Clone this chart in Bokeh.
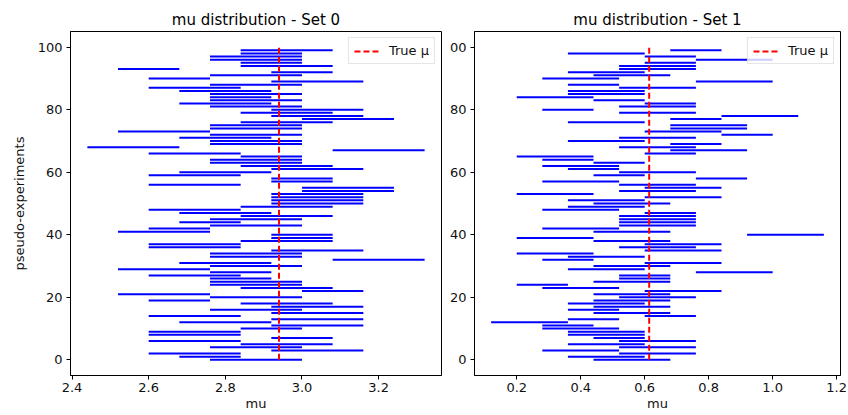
from bokeh.plotting import figure
from bokeh.models import ColumnDataSource, FixedTicker, Range1d
from bokeh.layouts import row
from bokeh.embed import file_html
from bokeh.resources import INLINE

# ---------------- data ----------------
set0_lo = [2.76, 2.68, 2.60, 2.92, 2.76, 2.84, 2.60, 2.92, 2.60, 2.60,
           2.84, 2.92, 2.68, 2.92, 2.60, 2.92, 2.76, 2.92, 2.84, 2.60,
           2.76, 2.52, 3.00, 2.84, 2.76, 2.76, 2.76, 2.60, 2.76, 2.52,
           2.76, 2.68, 3.08, 2.76, 2.76, 2.92, 2.60, 2.60, 2.84, 2.92,
           2.92, 2.52, 2.60, 2.76, 2.68, 2.76, 2.84, 2.68, 2.60, 2.84,
           2.92, 2.92, 2.92, 2.92, 3.00, 3.00, 2.60, 2.92, 2.92, 2.60,
           2.68, 2.92, 2.84, 2.76, 2.76, 2.84, 2.60, 3.08, 2.44, 2.76,
           2.76, 2.68, 2.76, 2.52, 2.76, 2.76, 2.84, 3.00, 2.92, 2.84,
           2.92, 2.76, 2.68, 2.76, 2.76, 2.76, 2.68, 2.60, 2.76, 2.92,
           2.60, 2.76, 2.92, 2.52, 2.84, 2.84, 2.76, 2.76, 2.84, 2.84]
set0_hi = [3.00, 2.84, 2.84, 3.16, 3.00, 3.08, 2.84, 3.08, 2.84, 2.84,
           3.00, 3.16, 2.92, 3.16, 2.84, 3.16, 3.00, 3.16, 3.08, 2.76,
           3.00, 2.76, 3.16, 3.08, 3.00, 3.00, 2.92, 2.84, 2.92, 2.76,
           3.00, 2.92, 3.32, 3.00, 3.00, 3.16, 2.84, 2.84, 3.08, 3.08,
           3.08, 2.76, 2.76, 3.00, 2.84, 3.00, 3.08, 2.92, 2.84, 3.08,
           3.16, 3.16, 3.16, 3.16, 3.24, 3.24, 2.84, 3.08, 3.08, 2.84,
           2.92, 3.16, 3.08, 3.00, 3.00, 3.00, 2.84, 3.32, 2.68, 3.00,
           3.00, 2.92, 3.00, 2.76, 3.00, 3.00, 3.08, 3.24, 3.16, 3.08,
           3.16, 3.00, 2.92, 3.00, 2.92, 3.00, 2.92, 2.84, 3.00, 3.16,
           2.76, 3.00, 3.08, 2.68, 3.08, 3.00, 3.00, 3.00, 3.00, 3.08]
set0_true_mu = 2.94

set1_lo = [0.44, 0.36, 0.52, 0.28, 0.52, 0.36, 0.52, 0.44, 0.36, 0.36,
           0.28, 0.28, 0.12, 0.36, 0.60, 0.44, 0.36, 0.44, 0.36, 0.44,
           0.52, 0.44, 0.60, 0.28, 0.20, 0.44, 0.52, 0.52, 0.76, 0.36,
           0.44, 0.60, 0.28, 0.36, 0.20, 0.60, 0.52, 0.60, 0.44, 0.20,
           0.92, 0.44, 0.28, 0.52, 0.52, 0.52, 0.52, 0.60, 0.28, 0.36,
           0.44, 0.36, 0.60, 0.20, 0.52, 0.60, 0.52, 0.28, 0.76, 0.44,
           0.52, 0.36, 0.28, 0.44, 0.28, 0.20, 0.60, 0.68, 0.52, 0.68,
           0.36, 0.52, 0.84, 0.60, 0.68, 0.68, 0.36, 0.68, 0.84, 0.52,
           0.28, 0.52, 0.60, 0.44, 0.20, 0.36, 0.36, 0.52, 0.36, 0.76,
           0.28, 0.44, 0.36, 0.52, 0.52, 0.60, 0.76, 0.60, 0.36, 0.68]
set1_hi = [0.68, 0.60, 0.76, 0.52, 0.76, 0.60, 0.76, 0.60, 0.60, 0.60,
           0.52, 0.44, 0.36, 0.52, 0.76, 0.68, 0.52, 0.68, 0.60, 0.68,
           0.76, 0.68, 0.84, 0.52, 0.36, 0.68, 0.68, 0.68, 1.00, 0.60,
           0.68, 0.84, 0.44, 0.60, 0.44, 0.84, 0.76, 0.84, 0.68, 0.44,
           1.16, 0.68, 0.52, 0.76, 0.76, 0.76, 0.76, 0.76, 0.52, 0.60,
           0.68, 0.60, 0.84, 0.44, 0.76, 0.84, 0.76, 0.52, 0.92, 0.60,
           0.76, 0.52, 0.52, 0.60, 0.44, 0.44, 0.76, 0.92, 0.76, 0.84,
           0.60, 0.76, 1.00, 0.84, 0.92, 0.92, 0.60, 0.84, 1.08, 0.76,
           0.44, 0.76, 0.76, 0.60, 0.44, 0.60, 0.60, 0.76, 0.52, 1.00,
           0.52, 0.68, 0.60, 0.76, 0.76, 0.76, 1.00, 0.76, 0.60, 0.84]
set1_true_mu = 0.614

titles = ["mu distribution - Set 0", "mu distribution - Set 1"]
x_label = "mu"
y_label = "pseudo-experiments"
legend_label = "True \u03bc"

set0_xticks = [2.4, 2.6, 2.8, 3.0, 3.2]
set0_xtick_labels = ["2.4", "2.6", "2.8", "3.0", "3.2"]
set1_xticks = [0.2, 0.4, 0.6, 0.8, 1.0, 1.2]
set1_xtick_labels = ["0.2", "0.4", "0.6", "0.8", "1.0", "1.2"]
yticks = [0, 20, 40, 60, 80, 100]
set0_ytick_labels = ["0", "20", "40", "60", "80", "100"]
set1_ytick_labels = ["0", "20", "40", "60", "80", "00"]

FONT = "DejaVu Sans"


def make_panel(lo, hi, true_mu, title, xticks, xlabels, ylabels, width,
               b_left, b_right, b_top, show_ylabel):
    n = len(lo)
    ys = list(range(n))
    xmin, xmax = min(lo), max(hi)
    xm = 0.05 * (xmax - xmin)
    ymin, ymax = 0, n
    ym = 0.05 * (ymax - ymin)
    p = figure(width=width, height=415,
               x_range=Range1d(xmin - xm, xmax + xm),
               y_range=Range1d(ymin - ym, ymax + ym),
               output_backend="svg", toolbar_location=None,
               min_border_left=b_left, min_border_right=b_right,
               min_border_top=b_top, min_border_bottom=40,
               title=title)
    p.title.align = "center"
    p.title.text_font = FONT
    p.title.text_font_size = "15px"
    p.title.text_font_style = "normal"
    p.title.text_color = "black"
    p.title.standoff = 5
    p.grid.visible = False
    p.outline_line_color = "black"
    p.outline_line_width = 1
    p.background_fill_color = "white"
    p.border_fill_color = "white"

    src = ColumnDataSource(dict(lo=lo, hi=hi, y=ys))
    p.segment(x0="lo", y0="y", x1="hi", y1="y", source=src,
              line_color="blue", line_width=2)
    p.segment(x0=[true_mu], y0=[ymin], x1=[true_mu], y1=[ymax],
              line_color="red", line_width=2, line_dash="6 3",
              legend_label=legend_label)

    for ax in (p.xaxis[0], p.yaxis[0]):
        ax.major_tick_out = 4
        ax.major_tick_in = 0
        ax.minor_tick_line_color = None
        ax.axis_line_color = "black"
        ax.major_tick_line_color = "black"
        ax.major_label_text_font = FONT
        ax.major_label_text_font_size = "13px"
        ax.major_label_text_color = "#111111"
        ax.major_label_standoff = 3
        ax.axis_label_text_font = FONT
        ax.axis_label_text_font_size = "13px"
        ax.axis_label_text_font_style = "normal"
        ax.axis_label_text_color = "#111111"

    p.xaxis[0].ticker = FixedTicker(ticks=xticks)
    p.xaxis[0].major_label_overrides = dict(zip(xticks, xlabels))
    p.xaxis[0].axis_label = x_label
    p.xaxis[0].axis_label_standoff = 1
    p.yaxis[0].ticker = FixedTicker(ticks=yticks)
    p.yaxis[0].major_label_overrides = dict(zip(yticks, ylabels))
    p.yaxis[0].major_label_standoff = 4
    if show_ylabel:
        p.yaxis[0].axis_label = y_label
        p.yaxis[0].axis_label_standoff = 8

    lg = p.legend[0]
    lg.location = "top_right"
    lg.margin = 6
    lg.padding = 5
    lg.spacing = 0
    lg.glyph_width = 26
    lg.glyph_height = 14
    lg.label_height = 14
    lg.label_standoff = 9
    lg.label_text_font = FONT
    lg.label_text_font_size = "13px"
    lg.label_text_color = "#111111"
    lg.border_line_color = "#cccccc"
    lg.border_line_width = 1
    lg.background_fill_color = "white"
    lg.background_fill_alpha = 0.8
    return p


p0 = make_panel(set0_lo, set0_hi, set0_true_mu, titles[0], set0_xticks,
                set0_xtick_labels, set0_ytick_labels, 446, 70, 5, 27, True)
p1 = make_panel(set1_lo, set1_hi, set1_true_mu, titles[1], set1_xticks,
                set1_xtick_labels, set1_ytick_labels, 402, 28, 8, 31, False)

layout = row(p0, p1, spacing=0)
open("out.html", "w").write(file_html(layout, INLINE))
